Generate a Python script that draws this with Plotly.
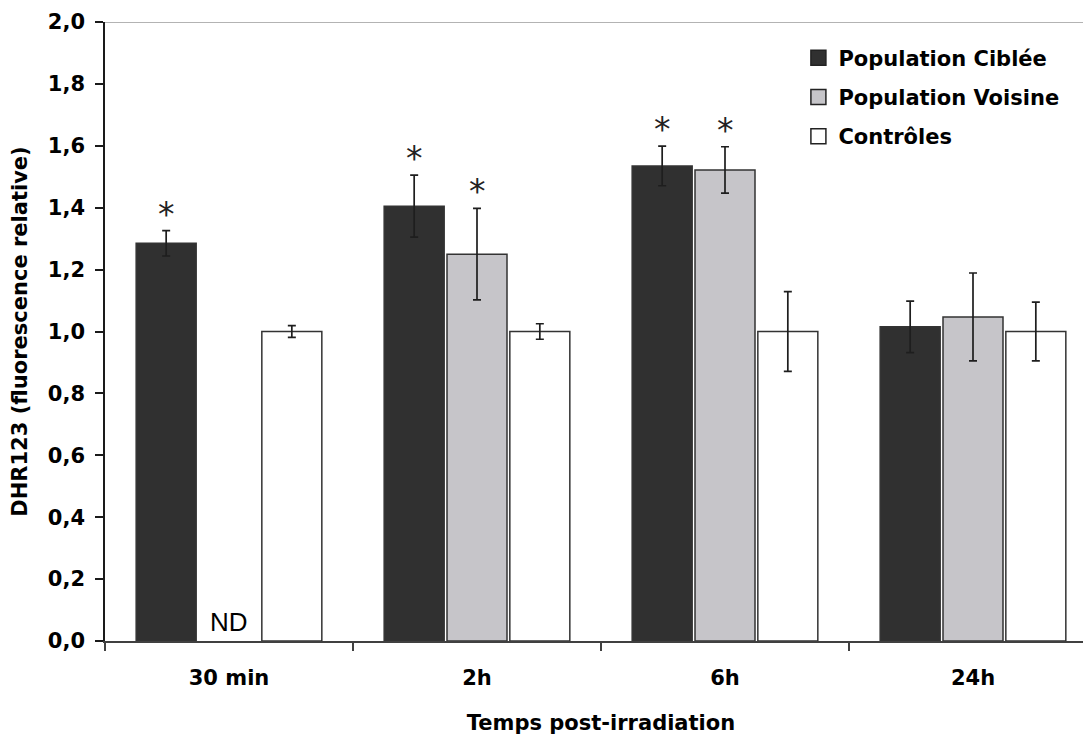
import plotly.graph_objects as go

categories = ["30 min", "2h", "6h", "24h"]
series_names = ["Population Ciblée", "Population Voisine", "Contrôles"]
cible_vals = [1.285, 1.405, 1.535, 1.015]
cible_err = [0.041, 0.10, 0.064, 0.083]
voisine_vals = [None, 1.250, 1.522, 1.047]
voisine_err = [None, 0.148, 0.075, 0.142]
controle_vals = [1.0, 1.0, 1.0, 1.0]
controle_err = [0.019, 0.025, 0.129, 0.095]
cible_sig = [True, True, True, False]
voisine_sig = [False, True, True, False]
controle_sig = [False, False, False, False]
nd_label = "ND"

colors = ["#303030", "#c6c5c9", "#ffffff"]
BARGAP = 0.24
BARGROUPGAP = 0.045
FS = 21
LABEL_FONT = dict(family="DejaVu Sans", size=FS, color="#000000")

vals = [cible_vals, voisine_vals, controle_vals]
errs = [cible_err, voisine_err, controle_err]
sigs = [cible_sig, voisine_sig, controle_sig]

fig = go.Figure()
for i, name in enumerate(series_names):
    fig.add_trace(go.Bar(
        x=categories, y=vals[i], name=name, showlegend=False,
        marker=dict(color=colors[i], line=dict(color="#333333", width=1.5)),
        error_y=dict(type="data", array=errs[i], visible=True,
                     color="#1e1e1e", thickness=1.7, width=4),
    ))
# legend entries (bigger square swatches)
for i, name in enumerate(series_names):
    fig.add_trace(go.Scatter(
        x=[None], y=[None], mode="markers", name=f"<b>{name}</b>",
        marker=dict(symbol="square", size=15, color=colors[i],
                    line=dict(color="#222222", width=1.5)),
        legendgroup=f"g{i}", showlegend=True,
    ))

slot = (1 - BARGAP) / 3
annotations = []
for i in range(3):
    for j, cat in enumerate(categories):
        if sigs[i][j]:
            annotations.append(dict(
                x=j + (i - 1) * slot, y=vals[i][j] + errs[i][j], xref="x", yref="y",
                text="*", showarrow=False, yanchor="bottom", yshift=-5,
                font=dict(family="DejaVu Sans", size=33, color="#222222"),
            ))
        if vals[i][j] is None:
            annotations.append(dict(
                x=j + (i - 1) * slot, y=0, xref="x", yref="y",
                text=nd_label, showarrow=False, yanchor="bottom", yshift=2,
                font=dict(family="Liberation Sans", size=26, color="#000000"),
            ))

fig.update_layout(
    width=1091, height=738,
    margin=dict(l=97, r=2, t=14, b=105, autoexpand=False),
    paper_bgcolor="white", plot_bgcolor="white",
    barmode="group", bargap=BARGAP, bargroupgap=BARGROUPGAP,
    separators=",.",
    font=LABEL_FONT,
    showlegend=True,
    legend=dict(x=0.699, y=0.975, xanchor="left", yanchor="top",
                font=dict(family="DejaVu Sans", size=FS, color="#000000"),
                traceorder="grouped", tracegroupgap=9, itemsizing="trace",
                bgcolor="rgba(0,0,0,0)"),
    annotations=annotations,
    shapes=[dict(type="line", xref="paper", yref="y", x0=0, x1=1, y0=2.0, y1=2.0,
                 line=dict(color="#9a9a9a", width=1.5))],
)
fig.update_xaxes(
    range=[-0.5, 3.5], type="category",
    showline=True, linecolor="#404040", linewidth=1.5,
    ticks="outside", tickson="boundaries", ticklen=8, tickcolor="#404040", tickwidth=1.5,
    tickfont=dict(family="DejaVu Sans", size=FS, color="#000000"),
    ticklabelstandoff=17,
    showgrid=False, zeroline=False,
    title=dict(text="<b>Temps post-irradiation</b>", standoff=26,
               font=dict(family="DejaVu Sans", size=FS, color="#000000")),
)
fig.update_yaxes(
    range=[0, 2.0], dtick=0.2, tickformat=".1f",
    showline=True, linecolor="#1a1a1a", linewidth=1.6,
    ticks="outside", ticklen=8, tickcolor="#1a1a1a", tickwidth=1.5,
    tickfont=dict(family="DejaVu Sans", size=FS, color="#000000"),
    ticklabelstandoff=6,
    showgrid=False, zeroline=False,
    title=dict(text="<b>DHR123 (fluorescence relative)</b>", standoff=16,
               font=dict(family="DejaVu Sans", size=FS, color="#000000")),
)
fig.update_xaxes(tickprefix="<b>", ticksuffix="</b>")
fig.update_yaxes(tickprefix="<b>", ticksuffix="</b>")

fig.write_html("out.html")
